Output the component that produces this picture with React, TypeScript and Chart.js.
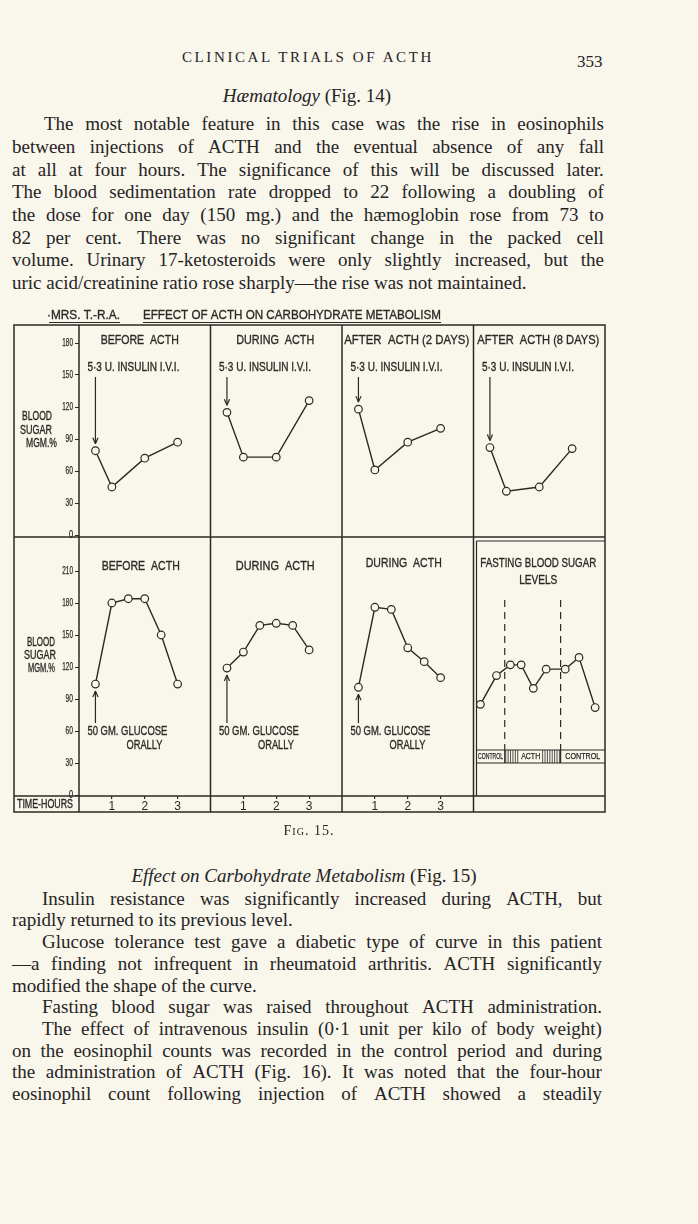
import React, { useEffect, useRef } from 'react';
import { Chart, registerables } from 'chart.js';

Chart.register(...registerables);

const INK = '#2b2926';
const TEXT_INK = '#26241f';
const PAPER = '#f9f6ec';
const LETTER = '"Liberation Sans", Arial, sans-serif';
const SERIF = '"Liberation Serif", "Times New Roman", serif';

const PANEL_HOURS = 4;
const PANEL_COUNT = 4;

// Upper row: blood sugar (mgm.%) after 5·3 U. insulin i.v.
const INSULIN_TITLES = ['BEFORE  ACTH', 'DURING  ACTH', 'AFTER  ACTH (2 DAYS)', 'AFTER  ACTH (8 DAYS)'];
const INSULIN_NOTE = '5·3 U. INSULIN I.V.I.';
const INSULIN_HOURS = [0.5, 1, 2, 3];
const INSULIN_BEFORE = [79, 45, 72, 87];
const INSULIN_DURING = [115, 73, 73, 126];
const INSULIN_AFTER_2 = [118, 61, 87, 100];
const INSULIN_AFTER_8 = [82, 41, 45, 81];

// Lower row: glucose tolerance (50 gm. glucose orally)
const GLUCOSE_TITLES = ['BEFORE  ACTH', 'DURING  ACTH', 'DURING  ACTH'];
const GLUCOSE_NOTE = ['50 GM. GLUCOSE', 'ORALLY'];
const GLUCOSE_HOURS = [0.5, 1, 1.5, 2, 2.5, 3];
const GLUCOSE_BEFORE = [104, 180, 184, 184, 150, 104];
const GLUCOSE_DURING_A = [119, 134, 159, 161, 159, 136];
const GLUCOSE_DURING_B = [101, 176, 174, 138, 125, 110];

// Fasting blood sugar levels (position across the last panel)
const FASTING_TITLE = ['FASTING BLOOD SUGAR', 'LEVELS'];
const FASTING_POSITIONS = [0.21, 0.7, 1.12, 1.45, 1.82, 2.21, 2.79, 3.21, 3.7];
const FASTING_VALUES = [85, 112, 122, 122, 100, 118, 118, 129, 82];
const ACTH_PERIOD = [0.95, 2.65];
const PERIOD_LABELS = ['CONTROL', 'ACTH', 'CONTROL'];

const TOP_TICKS = [0, 30, 60, 90, 120, 150, 180];
const BOTTOM_TICKS = [0, 30, 60, 90, 120, 150, 180, 210];
const HOUR_TICKS = [1, 2, 3];

const HEADER = ['·MRS. T.-R.A.', 'EFFECT OF ACTH ON CARBOHYDRATE METABOLISM'];
const AXIS_LABEL = ['BLOOD', 'SUGAR', 'MGM.%'];
const TIME_LABEL = 'TIME-HOURS';

function fit(ctx: CanvasRenderingContext2D, text: string, x: number, y: number, width: number, size: number, align: 'left' | 'center' | 'right' = 'left', weight = 0.35) {
  ctx.save();
  ctx.font = `${size}px ${LETTER}`;
  const natural = ctx.measureText(text).width || 1;
  const x0 = align === 'left' ? x : align === 'center' ? x - width / 2 : x - width;
  ctx.translate(x0, y);
  ctx.scale(width / natural, 1);
  ctx.fillStyle = INK;
  ctx.strokeStyle = INK;
  ctx.lineWidth = weight;
  ctx.lineJoin = 'round';
  ctx.textAlign = 'left';
  ctx.textBaseline = 'middle';
  ctx.fillText(text, 0, 0);
  if (weight > 0) ctx.strokeText(text, 0, 0);
  ctx.restore();
}

function seg(ctx: CanvasRenderingContext2D, x1: number, y1: number, x2: number, y2: number) {
  ctx.beginPath();
  ctx.moveTo(x1, y1);
  ctx.lineTo(x2, y2);
  ctx.stroke();
}

function arrow(ctx: CanvasRenderingContext2D, x: number, from: number, to: number) {
  const dir = to > from ? 1 : -1;
  seg(ctx, x, from, x, to);
  seg(ctx, x, to, x - 2.6, to - dir * 6);
  seg(ctx, x, to, x + 2.6, to - dir * 6);
}

const sheetPlugin = {
  id: 'sheet',
  beforeDatasetsDraw(chart: any) {
    const ctx: CanvasRenderingContext2D = chart.ctx;
    const x = chart.scales.x;
    const yt = chart.scales.yTop;
    const left = yt.left;
    const right = x.right;
    const top = chart.chartArea.top;
    const mid = yt.bottom;
    const rowTop = chart.chartArea.bottom;
    const bottom = x.bottom;
    ctx.save();
    ctx.strokeStyle = INK;
    ctx.lineWidth = 1.5;
    ctx.strokeRect(left, top, right - left, bottom - top);
    for (let p = 0; p < PANEL_COUNT; p++) {
      const px = x.getPixelForValue(p * PANEL_HOURS);
      seg(ctx, px, top, px, bottom);
    }
    seg(ctx, left, mid, right, mid);
    seg(ctx, left, rowTop, right, rowTop);

    // fasting panel inner box and period strip
    const base = (PANEL_COUNT - 1) * PANEL_HOURS;
    const fx = x.getPixelForValue(base) + 3;
    const boxTop = mid + 4;
    const stripTop = rowTop - 46;
    const stripBottom = rowTop - 33;
    ctx.lineWidth = 1.2;
    seg(ctx, fx, boxTop, fx, rowTop);
    seg(ctx, fx, boxTop, right, boxTop);
    seg(ctx, fx, stripTop, right, stripTop);
    seg(ctx, fx, stripBottom, right, stripBottom);

    const a0 = x.getPixelForValue(base + ACTH_PERIOD[0]);
    const a1 = x.getPixelForValue(base + ACTH_PERIOD[1]);
    const textL = a0 + 15;
    const textR = a1 - 19;
    ctx.lineWidth = 0.8;
    for (let h = a0 + 1; h < textL; h += 2.4) seg(ctx, h, stripTop, h, stripBottom);
    for (let h = textR + 1; h < a1; h += 2.4) seg(ctx, h, stripTop, h, stripBottom);
    ctx.lineWidth = 1.2;
    seg(ctx, a0, stripTop, a0, stripBottom);
    seg(ctx, a1, stripTop, a1, stripBottom);
    ctx.setLineDash([7, 5]);
    seg(ctx, a0, mid + 63, a0, stripTop);
    seg(ctx, a1, mid + 63, a1, stripTop);
    ctx.setLineDash([]);
    ctx.restore();

    const sy = (stripTop + stripBottom) / 2 + 0.5;
    fit(ctx, PERIOD_LABELS[0], (fx + a0) / 2, sy, 25, 8.5, 'center', 0.25);
    fit(ctx, PERIOD_LABELS[1], (textL + textR) / 2, sy, 19, 8.5, 'center', 0.25);
    fit(ctx, PERIOD_LABELS[2], (a1 + right) / 2, sy, 35, 8.5, 'center', 0.25);
  },
  afterDraw(chart: any) {
    const ctx: CanvasRenderingContext2D = chart.ctx;
    const x = chart.scales.x;
    const yt = chart.scales.yTop;
    const yb = chart.scales.yBottom;
    const top = chart.chartArea.top;
    const rowTop = chart.chartArea.bottom;
    const mid = yt.bottom;

    // header
    ctx.save();
    ctx.strokeStyle = INK;
    ctx.lineWidth = 1;
    fit(ctx, HEADER[0], 47, top - 10, 73, 13.5);
    fit(ctx, HEADER[1], 143, top - 10, 298, 13.5);
    seg(ctx, 49, top - 2.5, 120, top - 2.5);
    seg(ctx, 143, top - 2.5, 441, top - 2.5);
    ctx.restore();

    // tick labels of both sugar scales
    const tickLabels = (scale: any, ticks: number[]) => {
      ticks.forEach((v) => {
        const s = String(v);
        fit(ctx, s, scale.right - 6, scale.getPixelForValue(v), s.length * 3.3 + 0.8, 10, 'right', 0.25);
      });
    };
    tickLabels(yt, TOP_TICKS);
    tickLabels(yb, BOTTOM_TICKS);

    // axis captions
    const capTop = [[22, 30], [20, 32], [26, 31]];
    const capBot = [[27, 28], [24, 32], [28, 27]];
    AXIS_LABEL.forEach((t, i) => {
      fit(ctx, t, capTop[i][0], top + 92 + i * 13.5, capTop[i][1], 12.5);
      fit(ctx, t, capBot[i][0], mid + 106 + i * 13, capBot[i][1], 12.5);
    });
    fit(ctx, TIME_LABEL, 17, (rowTop + x.bottom) / 2 + 1, 56, 12);

    ctx.save();
    ctx.strokeStyle = INK;
    ctx.lineWidth = 1.2;

    // insulin panels
    const topDx = [-5, -1, -1, -1];
    const topW = [78, 78, 125, 122];
    INSULIN_TITLES.forEach((t, p) => {
      fit(ctx, t, x.getPixelForValue(p * PANEL_HOURS + 2) + topDx[p], top + 15, topW[p], 13.5, 'center');
      const ds = chart.data.datasets[p].data[0];
      const ax = x.getPixelForValue(ds.x);
      fit(ctx, INSULIN_NOTE, ax - 8, top + 43, 92, 12.5);
      ctx.strokeStyle = INK;
      ctx.lineWidth = 1.2;
      arrow(ctx, ax, top + 52, yt.getPixelForValue(ds.y) - 7);
    });

    // glucose panels
    const botDx = [-4, -1, -4];
    const botW = [78, 79, 76];
    const botY = [566, 566, 563];
    GLUCOSE_TITLES.forEach((t, p) => {
      fit(ctx, t, x.getPixelForValue(p * PANEL_HOURS + 2) + botDx[p], botY[p] - 300, botW[p], 13.5, 'center');
      const ds = chart.data.datasets[PANEL_COUNT + p].data[0];
      const ax = x.getPixelForValue(ds.x);
      fit(ctx, GLUCOSE_NOTE[0], ax - 8, rowTop - 65, 80, 13);
      fit(ctx, GLUCOSE_NOTE[1], ax + 31, rowTop - 51, 36, 13);
      ctx.strokeStyle = INK;
      ctx.lineWidth = 1.2;
      arrow(ctx, ax, rowTop - 73, yb.getPixelForValue(ds.y) + 7);
    });
    const fc = x.getPixelForValue((PANEL_COUNT - 1) * PANEL_HOURS + 2) - 1;
    fit(ctx, FASTING_TITLE[0], fc, mid + 26, 116, 13, 'center');
    fit(ctx, FASTING_TITLE[1], fc, mid + 43, 38, 13, 'center');
    ctx.restore();
  },
};

function buildConfig(): any {
  const toPoints = (hours: number[], values: number[], panel: number) =>
    values.map((v, i) => ({ x: panel * PANEL_HOURS + hours[i], y: v }));
  const style = {
    borderColor: INK,
    borderWidth: 1.4,
    pointRadius: 3.8,
    pointBorderWidth: 1.2,
    pointBackgroundColor: PAPER,
    pointBorderColor: INK,
    tension: 0,
    fill: false,
    clip: false,
  };
  const insulin = [INSULIN_BEFORE, INSULIN_DURING, INSULIN_AFTER_2, INSULIN_AFTER_8];
  const glucose = [GLUCOSE_BEFORE, GLUCOSE_DURING_A, GLUCOSE_DURING_B];
  const datasets = [
    ...insulin.map((vals, p) => ({ label: INSULIN_TITLES[p], data: toPoints(INSULIN_HOURS, vals, p), yAxisID: 'yTop', ...style })),
    ...glucose.map((vals, p) => ({ label: GLUCOSE_TITLES[p], data: toPoints(GLUCOSE_HOURS, vals, p), yAxisID: 'yBottom', ...style })),
    { label: FASTING_TITLE.join(' '), data: toPoints(FASTING_POSITIONS, FASTING_VALUES, PANEL_COUNT - 1), yAxisID: 'yBottom', ...style },
  ];
  const k = 192 / 180; // px per mgm.% (from the drawing)
  const yGrid = { drawOnChartArea: false, drawTicks: true, tickLength: 4, color: INK, lineWidth: 1 };
  return {
    type: 'line',
    data: { datasets },
    options: {
      responsive: false,
      animation: false,
      devicePixelRatio: 1,
      events: [],
      layout: { padding: { left: 14, right: 93, top: 25, bottom: 18 } },
      plugins: { legend: { display: false }, tooltip: { enabled: false } },
      scales: {
        x: {
          type: 'linear',
          position: 'bottom',
          min: 0,
          max: PANEL_COUNT * PANEL_HOURS,
          afterFit: (s: any) => { s.height = 16; },
          afterBuildTicks: (s: any) => {
            s.ticks = [0, 1, 2].flatMap((p) => HOUR_TICKS.map((h) => ({ value: p * PANEL_HOURS + h })));
          },
          ticks: {
            callback: (v: number) => String(v % PANEL_HOURS),
            color: INK,
            font: { family: LETTER, size: 12 },
            padding: 0,
            autoSkip: false,
            maxRotation: 0,
          },
          grid: { drawOnChartArea: false, drawTicks: true, tickLength: 3, color: INK, lineWidth: 1.2 },
          border: { display: false },
        },
        yTop: {
          type: 'linear',
          position: 'left',
          stack: 'sugar',
          stackWeight: 212,
          weight: 1,
          min: -2 / k,
          max: 210 / k,
          afterFit: (s: any) => { s.width = 65; },
          afterBuildTicks: (s: any) => { s.ticks = TOP_TICKS.map((v) => ({ value: v })); },
          ticks: { display: false },
          grid: yGrid,
          border: { display: false },
        },
        yBottom: {
          type: 'linear',
          position: 'left',
          stack: 'sugar',
          stackWeight: 259,
          weight: 0,
          min: -1 / k,
          max: 258 / k,
          afterFit: (s: any) => { s.width = 65; },
          afterBuildTicks: (s: any) => { s.ticks = BOTTOM_TICKS.map((v) => ({ value: v })); },
          ticks: { display: false },
          grid: yGrid,
          border: { display: false },
        },
      },
    },
    plugins: [sheetPlugin],
  };
}

type LineSpec = { y: number; left: number; right: number; text: string; justify: boolean };

const HAEM_LINES: LineSpec[] = [
  { y: 125, left: 44, right: 604, justify: true, text: 'The most notable feature in this case was the rise in eosinophils' },
  { y: 148, left: 12, right: 604, justify: true, text: 'between injections of ACTH and the eventual absence of any fall' },
  { y: 171, left: 12, right: 604, justify: true, text: 'at all at four hours.  The significance of this will be discussed later.' },
  { y: 193, left: 12, right: 604, justify: true, text: 'The blood sedimentation rate dropped to 22 following a doubling of' },
  { y: 216, left: 12, right: 604, justify: true, text: 'the dose for one day (150 mg.) and the hæmoglobin rose from 73 to' },
  { y: 239, left: 12, right: 604, justify: true, text: '82 per cent.  There was no significant change in the packed cell' },
  { y: 261, left: 12, right: 604, justify: true, text: 'volume.  Urinary 17-ketosteroids were only slightly increased, but the' },
  { y: 284, left: 12, right: 604, justify: false, text: 'uric acid/creatinine ratio rose sharply—the rise was not maintained.' },
];

const CARB_LINES: LineSpec[] = [
  { y: 900, left: 42, right: 602, justify: true, text: 'Insulin resistance was significantly increased during ACTH, but' },
  { y: 921, left: 12, right: 602, justify: false, text: 'rapidly returned to its previous level.' },
  { y: 943, left: 42, right: 602, justify: true, text: 'Glucose tolerance test gave a diabetic type of curve in this patient' },
  { y: 965, left: 12, right: 602, justify: true, text: '—a finding not infrequent in rheumatoid arthritis.  ACTH significantly' },
  { y: 987, left: 12, right: 602, justify: false, text: 'modified the shape of the curve.' },
  { y: 1008, left: 42, right: 602, justify: true, text: 'Fasting blood sugar was raised throughout ACTH administration.' },
  { y: 1030, left: 42, right: 602, justify: true, text: 'The effect of intravenous insulin (0·1 unit per kilo of body weight)' },
  { y: 1052, left: 12, right: 602, justify: true, text: 'on the eosinophil counts was recorded in the control period and during' },
  { y: 1073, left: 12, right: 602, justify: true, text: 'the administration of ACTH (Fig. 16).  It was noted that the four-hour' },
  { y: 1095, left: 12, right: 602, justify: true, text: 'eosinophil count following injection of ACTH showed a steadily' },
];

const bodyFont: React.CSSProperties = {
  fontFamily: SERIF,
  fontSize: 19,
  lineHeight: '22px',
  color: TEXT_INK,
};

function TextLine({ spec }: { spec: LineSpec }) {
  const base: React.CSSProperties = {
    ...bodyFont,
    position: 'absolute',
    left: spec.left,
    top: spec.y - 12,
    height: 22,
    whiteSpace: 'pre',
  };
  if (!spec.justify) return <div style={base}>{spec.text}</div>;
  const words = spec.text.split(' ').filter((w) => w.length > 0);
  return (
    <div style={{ ...base, width: spec.right - spec.left, display: 'flex', justifyContent: 'space-between' }}>
      {words.map((w, i) => (
        <span key={i}>{w}</span>
      ))}
    </div>
  );
}

export default function App() {
  const ref = useRef<HTMLCanvasElement>(null);
  useEffect(() => {
    const canvas = ref.current;
    if (!canvas) return;
    const chart = new Chart(canvas, buildConfig());
    return () => chart.destroy();
  }, []);

  return (
    <div style={{ position: 'absolute', left: 0, top: 0, width: 698, height: 1224, background: PAPER, overflow: 'hidden' }}>
      <div style={{ position: 'absolute', left: 182, top: 47, fontFamily: SERIF, fontSize: 15, lineHeight: '20px', letterSpacing: 2.6, color: TEXT_INK, whiteSpace: 'pre' }}>
        CLINICAL TRIALS OF ACTH
      </div>
      <div style={{ position: 'absolute', left: 577, top: 52, fontFamily: SERIF, fontSize: 17, lineHeight: '20px', color: TEXT_INK }}>353</div>
      <div style={{ ...bodyFont, position: 'absolute', left: 107, width: 400, top: 85, height: 22, textAlign: 'center', whiteSpace: 'pre' }}>
        <i>Hæmatology</i> (Fig. 14)
      </div>
      {HAEM_LINES.map((s, i) => (
        <TextLine key={'h' + i} spec={s} />
      ))}
      <canvas ref={ref} width={698} height={530} style={{ position: 'absolute', left: 0, top: 300, width: 698, height: 530 }} />
      <div style={{ position: 'absolute', left: 209, width: 200, top: 821, fontFamily: SERIF, fontSize: 14, lineHeight: '20px', fontVariant: 'small-caps', letterSpacing: 1, textAlign: 'center', color: TEXT_INK }}>
        Fig. 15.
      </div>
      <div style={{ ...bodyFont, position: 'absolute', left: 54, width: 500, top: 865, height: 22, textAlign: 'center', whiteSpace: 'pre' }}>
        <i>Effect on Carbohydrate Metabolism</i> (Fig. 15)
      </div>
      {CARB_LINES.map((s, i) => (
        <TextLine key={'c' + i} spec={s} />
      ))}
    </div>
  );
}
